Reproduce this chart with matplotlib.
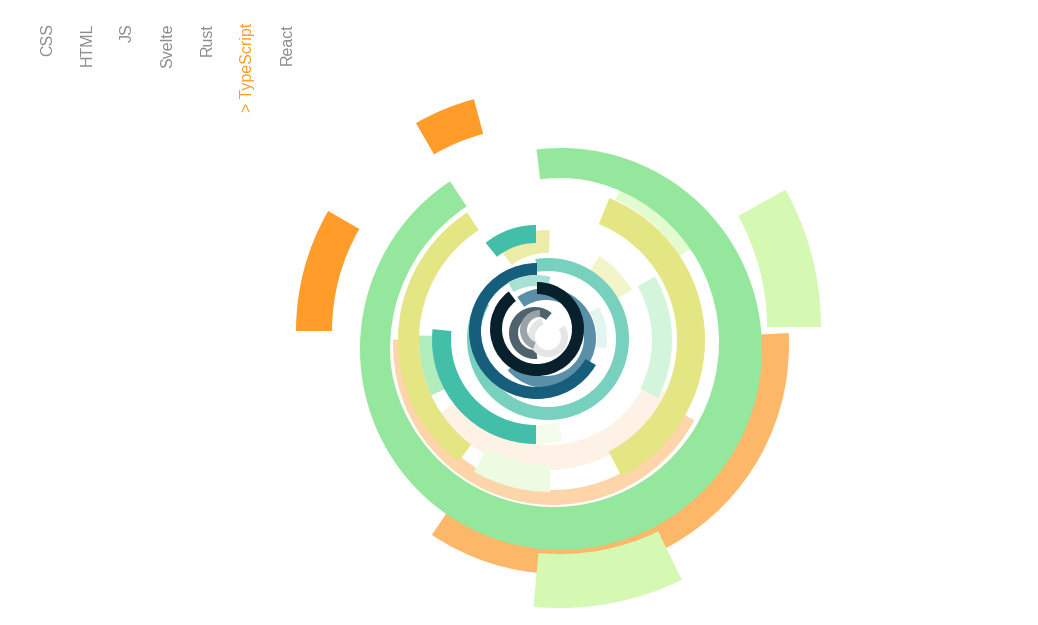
import matplotlib.pyplot as plt
from matplotlib.patches import Wedge

plt.rcParams["font.family"] = ["Liberation Sans", "DejaVu Sans"]

languages = ["CSS", "HTML", "JS", "Svelte", "Rust", "TypeScript", "React"]
selected = "TypeScript"

# arcs in drawing order; angles clockwise from 12 o'clock (degrees)
arc_cx = [560, 538, 560, 536, 536, 550, 553, 561, 554, 548, 550, 545, 550,
          552, 550, 545, 547, 536, 536, 536, 548, 545, 546, 537, 536, 537,
          535, 548, 540]
arc_cy = [345, 327, 330, 331, 331, 340, 345, 349, 342, 338, 340, 340, 340,
          340, 340, 340, 310, 305, 340, 340, 339, 338, 338, 331, 331, 329,
          333, 337, 330]
arc_r0 = [195, 229, 224, 204, 204, 155, 145, 171, 165, 107, 125, 107, 112,
          125, 131, 82, 57, 62, 85, 85, 68, 52, 38, 56, 45, 35, 17, 13, 13]
arc_r1 = [229, 283, 278, 240, 240, 172, 160, 201, 191, 132, 152, 127, 131,
          153, 152, 100, 80, 80, 104, 104, 81, 62, 50, 68, 56, 47, 26, 20, 20]
arc_start = [87, 61, 154, 270, 330, 25, 118, -7, 0, 115, 180, 60, 245,
             22, 217, 33, 322, 321, 180, 165, -9, 60, 325, 120, 330, 0,
             175, 55, 200]
arc_end = [214, 90, 185.5, 300, 345, 57, 272, 326.5, 326.5, 235, 210, 117,
           272, 153, 327, 60, 362, 360, 276, 180, 300, 100, 590, 360, 375,
           323, 400, 340, 360]
arc_color = ["#FDB768", "#D5F9B3", "#D5F9B3", "#FF9C2A", "#FF9C2A",
             "#E2FBCF", "#FDD5A8", "#95E79D", "#95E79D", "#FEF2E6",
             "#EDFBE0", "#D3F5DC", "#B1EDBC", "#E4E583", "#E4E583",
             "#F3F4C9", "#E4E583", "#43BEA9", "#43BEA9", "#F4FCEC",
             "#78D0BF", "#E3F5F1", "#5A8FA8", "#175E7D", "#A8E0D5",
             "#081F2C", "#4F636C", "#E3E5E7", "#9AA3A8"]
arc_alpha = [1, 1, 1, 1, 1, 1, 1, 1, 1, 1, 1, 1, 1, 1, 1, 1, 0.7, 1, 1, 1,
             1, 1, 1, 1, 1, 1, 1, 1, 1]

fig = plt.figure(figsize=(10.38, 6.25), dpi=100)
ax = fig.add_axes([0, 0, 1, 1])
ax.set_xlim(0, 1038)
ax.set_ylim(625, 0)
ax.axis("off")

for i in range(len(arc_cx)):
    w = Wedge(
        (arc_cx[i], arc_cy[i]),
        arc_r1[i],
        arc_start[i] - 90,
        arc_end[i] - 90,
        width=arc_r1[i] - arc_r0[i],
        facecolor=arc_color[i],
        alpha=arc_alpha[i],
        linewidth=0,
    )
    ax.add_patch(w)

for i, lang in enumerate(languages):
    if lang == selected:
        label, col = "> " + lang, "#FF9C2A"
    else:
        label, col = lang, "#8C8C8C"
    ax.text(47.5 + 40 * i, 23, label, rotation=90, ha="center", va="top",
            fontsize=11.5, color=col)

fig.savefig("out.png", dpi=100)
